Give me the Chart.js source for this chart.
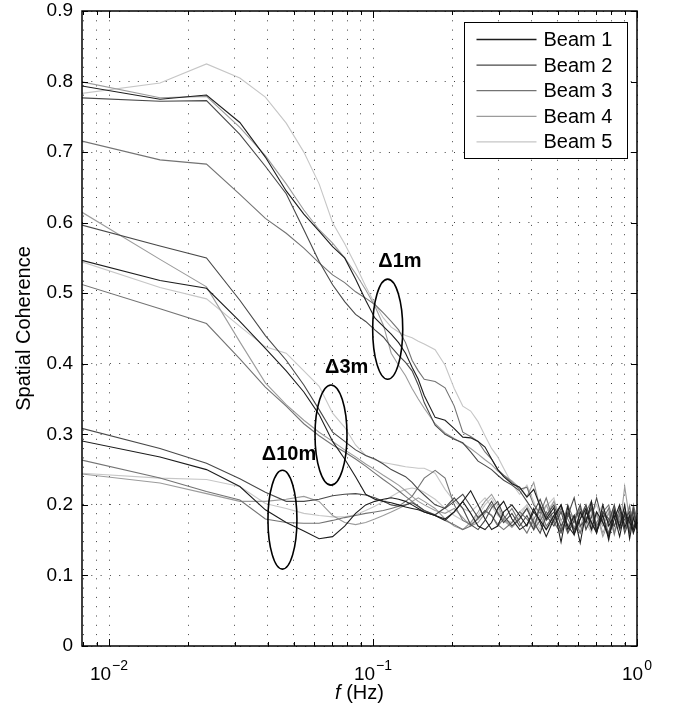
<!DOCTYPE html>
<html>
<head>
<meta charset="utf-8">
<script src="https://cdn.jsdelivr.net/npm/chart.js@4.4.1/dist/chart.umd.min.js"></script>
<style>
  html, body { margin: 0; padding: 0; background: #fff; }
  canvas { display: block; }
</style>
</head>
<body>
<canvas id="coherence" width="673" height="713"></canvas>
<script>
// frequency bins (Hz)
const freqHz = [
  0.0078, 0.0156, 0.0234, 0.0313, 0.0391, 0.0469, 0.0547, 0.0625, 0.0703, 0.0781,
  0.0859, 0.0938, 0.1016, 0.1094, 0.1172, 0.125, 0.1328, 0.1406, 0.1484, 0.1563,
  0.1719, 0.1875, 0.2031, 0.2188, 0.2344, 0.25, 0.2656, 0.2813, 0.2969, 0.3125,
  0.3359, 0.3594, 0.3828, 0.4063, 0.4297, 0.4531, 0.4844, 0.5156, 0.5469, 0.5781,
  0.6094, 0.6406, 0.6719, 0.7031, 0.7422, 0.7813, 0.8203, 0.8594, 0.8984, 0.9375,
  0.9688, 1.0
];

// 1 m separation
const coh1m_beam1 = [
  0.794,0.775,0.781,0.742,0.693,0.645,0.612,0.588,0.566,0.550,
  0.520,0.490,0.465,0.453,0.442,0.430,0.415,0.395,0.378,0.355,
  0.324,0.320,0.308,0.296,0.295,0.290,0.282,0.265,0.250,0.240,
  0.230,0.225,0.211,0.222,0.198,0.180,0.196,0.147,0.198,0.158,
  0.190,0.175,0.205,0.162,0.186,0.150,0.192,0.168,0.200,0.152,
  0.182,0.165];
const coh1m_beam2 = [
  0.777,0.772,0.773,0.725,0.680,0.641,0.590,0.545,0.512,0.488,
  0.470,0.460,0.448,0.438,0.424,0.412,0.402,0.390,0.370,0.345,
  0.313,0.300,0.293,0.288,0.275,0.262,0.256,0.250,0.242,0.235,
  0.228,0.220,0.205,0.190,0.208,0.185,0.170,0.190,0.160,0.178,
  0.200,0.165,0.182,0.210,0.175,0.158,0.190,0.170,0.185,0.160,
  0.195,0.172];
const coh1m_beam3 = [
  0.716,0.689,0.683,0.640,0.606,0.585,0.564,0.543,0.526,0.515,
  0.502,0.493,0.484,0.472,0.460,0.448,0.430,0.405,0.390,0.378,
  0.375,0.366,0.340,0.303,0.297,0.290,0.275,0.265,0.250,0.242,
  0.232,0.222,0.225,0.200,0.188,0.210,0.175,0.195,0.180,0.162,
  0.190,0.175,0.200,0.165,0.180,0.195,0.158,0.188,0.172,0.198,
  0.168,0.180];
const coh1m_beam4 = [
  0.800,0.777,0.779,0.735,0.695,0.655,0.618,0.590,0.571,0.550,
  0.528,0.505,0.482,0.455,0.415,0.398,0.383,0.365,0.350,0.337,
  0.315,0.302,0.294,0.287,0.280,0.272,0.264,0.257,0.248,0.242,
  0.234,0.224,0.212,0.232,0.195,0.182,0.205,0.178,0.190,0.168,
  0.185,0.200,0.170,0.188,0.155,0.175,0.195,0.165,0.226,0.178,
  0.160,0.185];
const coh1m_beam5 = [
  0.783,0.798,0.825,0.805,0.778,0.741,0.700,0.655,0.600,0.570,
  0.540,0.510,0.485,0.465,0.452,0.445,0.440,0.437,0.432,0.428,
  0.420,0.398,0.365,0.340,0.333,0.318,0.298,0.280,0.268,0.252,
  0.230,0.215,0.228,0.205,0.180,0.198,0.210,0.170,0.190,0.178,
  0.200,0.165,0.185,0.170,0.195,0.180,0.160,0.190,0.175,0.200,
  0.170,0.185];

// 3 m separation
const coh3m_beam1 = [
  0.547,0.518,0.507,0.460,0.422,0.390,0.360,0.328,0.290,0.265,
  0.240,0.215,0.208,0.205,0.203,0.200,0.197,0.195,0.193,0.190,
  0.185,0.180,0.190,0.205,0.188,0.170,0.165,0.175,0.195,0.205,
  0.180,0.165,0.172,0.190,0.178,0.165,0.185,0.200,0.170,0.158,
  0.180,0.195,0.165,0.190,0.175,0.155,0.180,0.200,0.168,0.185,
  0.160,0.175];
const coh3m_beam2 = [
  0.597,0.567,0.550,0.490,0.440,0.405,0.370,0.335,0.303,0.290,
  0.278,0.270,0.265,0.258,0.250,0.245,0.240,0.232,0.222,0.214,
  0.200,0.195,0.205,0.215,0.198,0.182,0.190,0.205,0.188,0.175,
  0.188,0.170,0.185,0.165,0.200,0.178,0.190,0.162,0.185,0.210,
  0.170,0.180,0.195,0.160,0.190,0.175,0.200,0.165,0.180,0.190,
  0.168,0.180];
const coh3m_beam3 = [
  0.513,0.478,0.457,0.407,0.367,0.340,0.315,0.298,0.285,0.275,
  0.265,0.255,0.245,0.236,0.228,0.220,0.212,0.205,0.198,0.192,
  0.185,0.178,0.172,0.165,0.170,0.182,0.192,0.185,0.172,0.165,
  0.175,0.190,0.180,0.165,0.178,0.190,0.175,0.160,0.185,0.175,
  0.195,0.180,0.165,0.175,0.190,0.200,0.170,0.185,0.165,0.180,
  0.195,0.170];
const coh3m_beam4 = [
  0.616,0.548,0.509,0.431,0.373,0.342,0.320,0.303,0.290,0.278,
  0.268,0.258,0.250,0.242,0.235,0.228,0.220,0.212,0.205,0.200,
  0.192,0.188,0.195,0.182,0.170,0.175,0.188,0.200,0.190,0.178,
  0.168,0.180,0.195,0.172,0.185,0.165,0.178,0.192,0.170,0.185,
  0.160,0.178,0.195,0.185,0.170,0.188,0.162,0.180,0.195,0.172,
  0.185,0.178];
const coh3m_beam5 = [
  0.545,0.508,0.492,0.453,0.424,0.415,0.390,0.368,0.330,0.310,
  0.285,0.270,0.264,0.260,0.258,0.256,0.254,0.253,0.252,0.252,
  0.245,0.222,0.205,0.195,0.190,0.200,0.210,0.198,0.185,0.178,
  0.175,0.190,0.200,0.182,0.170,0.190,0.205,0.178,0.160,0.185,
  0.195,0.170,0.188,0.200,0.175,0.190,0.165,0.180,0.195,0.170,
  0.185,0.178];

// 10 m separation
const coh10m_beam1 = [
  0.291,0.268,0.250,0.226,0.193,0.175,0.163,0.152,0.155,0.170,
  0.188,0.200,0.205,0.208,0.210,0.208,0.205,0.200,0.195,0.190,
  0.185,0.178,0.190,0.205,0.220,0.200,0.180,0.165,0.170,0.190,
  0.200,0.185,0.170,0.195,0.175,0.155,0.180,0.200,0.165,0.185,
  0.146,0.190,0.175,0.160,0.200,0.170,0.185,0.155,0.190,0.175,
  0.165,0.180];
const coh10m_beam2 = [
  0.309,0.280,0.259,0.237,0.218,0.205,0.205,0.208,0.213,0.215,
  0.216,0.214,0.210,0.205,0.200,0.198,0.200,0.203,0.198,0.192,
  0.186,0.196,0.210,0.195,0.172,0.165,0.178,0.196,0.205,0.185,
  0.170,0.180,0.195,0.175,0.160,0.185,0.200,0.170,0.188,0.165,
  0.180,0.200,0.175,0.162,0.190,0.180,0.170,0.195,0.160,0.180,
  0.190,0.170];
const coh10m_beam3 = [
  0.264,0.238,0.219,0.207,0.180,0.175,0.174,0.174,0.178,0.182,
  0.185,0.188,0.190,0.192,0.195,0.198,0.205,0.212,0.225,0.238,
  0.249,0.238,0.200,0.178,0.172,0.180,0.192,0.185,0.170,0.180,
  0.195,0.175,0.160,0.180,0.195,0.170,0.185,0.165,0.200,0.178,
  0.160,0.190,0.205,0.170,0.185,0.160,0.195,0.175,0.188,0.165,
  0.200,0.180];
const coh10m_beam4 = [
  0.244,0.231,0.216,0.205,0.205,0.208,0.212,0.205,0.185,0.175,
  0.172,0.175,0.180,0.185,0.190,0.195,0.200,0.205,0.210,0.205,
  0.195,0.180,0.170,0.165,0.175,0.190,0.205,0.215,0.200,0.180,
  0.170,0.182,0.195,0.170,0.185,0.200,0.175,0.160,0.190,0.180,
  0.168,0.195,0.175,0.190,0.160,0.180,0.198,0.170,0.185,0.175,
  0.190,0.165];
const coh10m_beam5 = [
  0.245,0.238,0.236,0.226,0.202,0.195,0.188,0.185,0.183,0.183,
  0.186,0.192,0.198,0.205,0.212,0.218,0.222,0.224,0.222,0.218,
  0.208,0.195,0.185,0.178,0.175,0.185,0.200,0.210,0.195,0.180,
  0.175,0.185,0.200,0.178,0.165,0.190,0.182,0.200,0.170,0.185,
  0.195,0.175,0.160,0.185,0.200,0.172,0.190,0.180,0.165,0.190,
  0.175,0.185];

const beamNames = ['Beam 1', 'Beam 2', 'Beam 3', 'Beam 4', 'Beam 5'];
const beamColors = ['#1c1c1c', '#484848', '#737373', '#9b9b9b', '#c6c6c6'];
const sepNames = ['\u03941m', '\u03943m', '\u039410m'];

// dotted grid positions on the log axis and the labelled decades
const gridFreqs = [0.008, 0.009, 0.01, 0.02, 0.03, 0.04, 0.05, 0.06, 0.07, 0.08, 0.09,
  0.1, 0.2, 0.3, 0.4, 0.5, 0.6, 0.7, 0.8, 0.9, 1];
const decadeTicks = [0.01, 0.1, 1];
const decadeExps = ['\u22122', '\u22121', '0'];

// ellipse annotations (data coords)
const noteFreqLo = [0.0997, 0.0603, 0.0400];
const noteFreqHi = [0.1296, 0.0797, 0.0515];
const noteCohLo = [0.378, 0.228, 0.109];
const noteCohHi = [0.520, 0.370, 0.249];
const noteTextFreq = [0.1047, 0.0658, 0.0379];
const noteTextCoh = [0.5375, 0.3865, 0.2636];

const FONT = '"Liberation Sans", Arial, Helvetica, sans-serif';
Chart.defaults.font.family = FONT;
Chart.defaults.color = '#000';

const groups = [
  [coh1m_beam1, coh1m_beam2, coh1m_beam3, coh1m_beam4, coh1m_beam5],
  [coh3m_beam1, coh3m_beam2, coh3m_beam3, coh3m_beam4, coh3m_beam5],
  [coh10m_beam1, coh10m_beam2, coh10m_beam3, coh10m_beam4, coh10m_beam5]
];

const datasets = [];
for (let b = 0; b < 5; b++) {
  groups.forEach((g, gi) => {
    datasets.push({
      label: sepNames[gi] + ' ' + beamNames[b],
      data: g[b],
      borderColor: beamColors[b],
      borderWidth: 1.1,
      pointRadius: 0,
      fill: false,
      tension: 0
    });
  });
}

const decor = {
  id: 'decor',
  afterDatasetsDraw(chart) {
    const { ctx, chartArea: a, scales: { x, y } } = chart;
    ctx.save();

    // inward tick marks on all four sides
    ctx.strokeStyle = '#000';
    ctx.lineWidth = 1;
    ctx.beginPath();
    gridFreqs.forEach(f => {
      const px = Math.round(x.getPixelForValue(f)) + 0.5;
      const len = decadeTicks.includes(f) ? 7 : 4;
      ctx.moveTo(px, a.bottom); ctx.lineTo(px, a.bottom - len);
      ctx.moveTo(px, a.top); ctx.lineTo(px, a.top + len);
    });
    y.ticks.forEach(t => {
      const py = Math.round(y.getPixelForValue(t.value)) + 0.5;
      ctx.moveTo(a.left, py); ctx.lineTo(a.left + 6, py);
      ctx.moveTo(a.right, py); ctx.lineTo(a.right - 6, py);
    });
    ctx.stroke();

    // frame
    ctx.lineWidth = 1.5;
    ctx.strokeRect(a.left, a.top, a.right - a.left, a.bottom - a.top);

    // ellipses + labels
    ctx.lineWidth = 1.6;
    ctx.font = 'bold 20px ' + FONT;
    ctx.textBaseline = 'alphabetic';
    ctx.textAlign = 'left';
    sepNames.forEach((name, i) => {
      const x0 = x.getPixelForValue(noteFreqLo[i]), x1 = x.getPixelForValue(noteFreqHi[i]);
      const y0 = y.getPixelForValue(noteCohHi[i]), y1 = y.getPixelForValue(noteCohLo[i]);
      ctx.beginPath();
      ctx.ellipse((x0 + x1) / 2, (y0 + y1) / 2, (x1 - x0) / 2, (y1 - y0) / 2, 0, 0, Math.PI * 2);
      ctx.stroke();
      ctx.fillStyle = '#000';
      ctx.fillText(name, x.getPixelForValue(noteTextFreq[i]), y.getPixelForValue(noteTextCoh[i]));
    });

    // legend
    const lx = Math.round(a.right - 173) + 0.5, rx = Math.round(a.right - 10) + 0.5;
    const ty = Math.round(a.top + 11) + 0.5, by = Math.round(a.top + 147) + 0.5;
    ctx.fillStyle = '#fff';
    ctx.fillRect(lx, ty, rx - lx, by - ty);
    ctx.strokeStyle = '#000';
    ctx.lineWidth = 1;
    ctx.strokeRect(lx, ty, rx - lx, by - ty);
    ctx.font = '20px ' + FONT;
    ctx.textBaseline = 'middle';
    beamNames.forEach((name, i) => {
      const ry = ty + 17 + i * 25.6;
      ctx.strokeStyle = beamColors[i];
      ctx.lineWidth = 1.3;
      ctx.beginPath();
      ctx.moveTo(lx + 12, ry); ctx.lineTo(lx + 72, ry);
      ctx.stroke();
      ctx.fillStyle = '#000';
      ctx.fillText(name, lx + 79, ry + 1);
    });
    ctx.restore();
  },
  afterDraw(chart) {
    const { ctx, chartArea: a, scales: { x } } = chart;
    ctx.save();
    ctx.fillStyle = '#000';
    ctx.textBaseline = 'alphabetic';
    ctx.textAlign = 'left';
    decadeTicks.forEach((v, i) => {
      const px = x.getPixelForValue(v);
      ctx.font = '19px ' + FONT;
      const w1 = ctx.measureText('10').width;
      ctx.font = '14px ' + FONT;
      const w2 = ctx.measureText(decadeExps[i]).width;
      const start = px - (w1 + w2 + 1) / 2;
      ctx.font = '19px ' + FONT;
      ctx.fillText('10', start, a.bottom + 34);
      ctx.font = '14px ' + FONT;
      ctx.fillText(decadeExps[i], start + w1 + 1, a.bottom + 24);
    });
    // x title: italic f + (Hz)
    ctx.font = 'italic 20px ' + FONT;
    const wf = ctx.measureText('f').width;
    ctx.font = '20px ' + FONT;
    const wr = ctx.measureText(' (Hz)').width;
    const sx = (a.left + a.right) / 2 - (wf + wr) / 2;
    ctx.font = 'italic 20px ' + FONT;
    ctx.fillText('f', sx, a.bottom + 53);
    ctx.font = '20px ' + FONT;
    ctx.fillText(' (Hz)', sx + wf, a.bottom + 53);
    ctx.restore();
  }
};

new Chart(document.getElementById('coherence'), {
  type: 'line',
  data: { labels: freqHz, datasets: datasets },
  options: {
    responsive: false,
    animation: false,
    events: [],
    layout: { padding: { top: 11, right: 36, bottom: 0, left: 0 } },
    plugins: { legend: { display: false }, tooltip: { enabled: false } },
    scales: {
      x: {
        type: 'logarithmic',
        min: 0.0079,
        max: 1,
        afterBuildTicks: (scale) => { scale.ticks = gridFreqs.map(v => ({ value: v })); },
        afterFit: (scale) => { scale.height = 67; scale.paddingLeft = 0; scale.paddingRight = 0; },
        ticks: { autoSkip: false, maxRotation: 0, callback: () => '' },
        grid: { color: 'rgba(0,0,0,0.75)', lineWidth: 1, drawTicks: false },
        border: { display: false, dash: [1, 8.3] }
      },
      y: {
        type: 'linear',
        min: 0,
        max: 0.9,
        afterFit: (scale) => { scale.width = 82; scale.paddingTop = 0; scale.paddingBottom = 0; },
        ticks: { stepSize: 0.1, padding: 9, color: '#000', font: { size: 19 } },
        grid: { color: 'rgba(0,0,0,0.75)', lineWidth: 1, drawTicks: false },
        border: { display: false, dash: [1, 8.3] },
        title: {
          display: true,
          text: 'Spatial Coherence',
          color: '#000',
          font: { size: 20 },
          padding: { top: 12, bottom: 0 }
        }
      }
    }
  },
  plugins: [decor]
});
</script>
</body>
</html>
